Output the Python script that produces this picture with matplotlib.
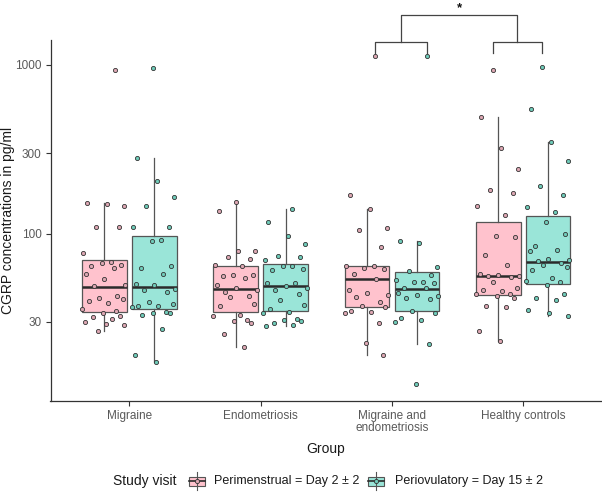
import matplotlib
matplotlib.use('Agg')
import matplotlib.pyplot as plt
from matplotlib.patches import Rectangle
from matplotlib.lines import Line2D
from matplotlib.ticker import NullLocator

plt.rcParams['font.family'] = ['Liberation Sans', 'DejaVu Sans']

groups = ["Migraine", "Endometriosis", "Migraine and\nendometriosis", "Healthy controls"]
visits = ["Perimenstrual = Day 2 \u00b1 2", "Periovulatory = Day 15 \u00b1 2"]

# box statistics (pg/ml), one value per group
peri_lo = [26.5, 21.3, 19.0, 23.1]
peri_q1 = [34.4, 34.4, 36.6, 43.2]
peri_med = [48.4, 47.2, 53.9, 55.9]
peri_q3 = [69.8, 64.0, 64.0, 117.8]
peri_hi = [152, 154, 140, 495]

ovu_lo = [17.3, 28.5, 22.3, 32.4]
ovu_q1 = [35.8, 35.0, 35.0, 50.6]
ovu_med = [48.4, 49.3, 47.2, 68.3]
ovu_q3 = [96.4, 65.8, 59.0, 127.8]
ovu_hi = [281, 140, 90.9, 349]

# individual measurements
mig_peri = [931, 152, 151, 146, 110, 109, 77, 68, 67, 65.5, 64, 63, 57.5, 54, 49.7, 48.7,
            43, 41.4, 41.1, 39.8, 38.9, 35.8, 34.7, 33.9, 32.6, 32, 31.2, 29.9, 29.3, 28.9, 26.5]
mig_ovu = [960, 281, 204, 165, 145, 110, 109, 92, 91, 64.7, 62.3, 58, 50.6, 50, 47, 46.2,
           45.4, 39.3, 38.5, 37.5, 37.2, 36.8, 34.5, 34, 33.9, 33.2, 27.3, 19, 17.3]
endo_peri = [154, 137, 79.3, 79, 72.8, 71.1, 65.5, 64, 57.2, 57, 55.9, 55, 50, 47.7, 46.6,
             45, 42.6, 42, 38.5, 37.2, 33.2, 32.6, 31, 30.5, 29.6, 25.3, 21.3]
endo_ovu = [140, 116.6, 96.4, 86.9, 73.4, 73, 69.5, 64.7, 64, 61.9, 60.6, 51.1, 51, 48.7,
            47.7, 46.6, 44.2, 40.5, 38, 35.8, 34.3, 34, 31.4, 31, 30.2, 29.6, 28.9, 28.5]
me_peri = [1130, 170.5, 140, 108, 105.6, 83.4, 64.7, 64, 62.5, 62, 58, 54, 46.2, 44.5, 43.4,
           42.2, 39.3, 37.2, 36.6, 34.7, 34.3, 33.7, 29.6, 22.5, 19]
me_ovu = [1130, 90.9, 88.1, 63.5, 59.9, 56.6, 53.4, 51.6, 51.4, 51, 47.7, 47.5, 44.5, 43.5,
          42.6, 41.4, 41, 34.7, 33.7, 31.5, 30.7, 29.9, 22.3, 12.9]
hc_peri = [935, 495, 322, 242, 181, 174, 145, 129, 96.4, 95.1, 75, 65.5, 57.7, 57, 56.5, 56,
           55.5, 51.6, 47.7, 46.6, 45.6, 44.2, 44, 42.6, 41.6, 37.5, 36.7, 26.5, 23.1]
hc_ovu = [978, 549, 349, 270, 192, 170.5, 143, 134, 116.6, 100, 84.1, 80.4, 78.6, 70.8, 69.5,
          69, 66.8, 65.5, 63.5, 61.2, 54.7, 52.2, 52, 50, 44.2, 41.6, 40.7, 35.2, 33.7, 32.4]

peri_pts = [mig_peri, endo_peri, me_peri, hc_peri]
ovu_pts = [mig_ovu, endo_ovu, me_ovu, hc_ovu]

# horizontal jitter of the points (fixed pattern), first point of each box set by hand
JIT = [0.08, -0.13, 0.02, 0.15, -0.06, 0.11, -0.16, 0.05, -0.02, 0.13, -0.10, 0.07, -0.14,
       0.00, 0.16, -0.08, 0.10, -0.04, 0.14, -0.12, 0.03, -0.17, 0.09, -0.01, 0.12, -0.09,
       0.06, -0.15, 0.01, 0.15, -0.05]
peri_first_jit = [0.085, 0.0, 0.062, -0.043]
ovu_first_jit = [-0.01, 0.05, 0.078, -0.048]

PINK = '#FFC2CD'
TEAL = '#9AE5D8'
PINK_PT = '#DDA7B3'
TEAL_PT = '#6FCBB9'
EDGE = '#555555'
MED = '#2b2b2b'
GREY_TXT = '#595959'

W, H = 602, 493
fig = plt.figure(figsize=(W / 100, H / 100), dpi=100)
ax = fig.add_axes([50.5 / W, 1 - 401 / H, (W - 50.5) / W, 361 / H])


def fx(px):
    return px / W


def fy(py):
    return 1 - py / H


boxes = [
    (-0.19, PINK, PINK_PT, peri_lo, peri_q1, peri_med, peri_q3, peri_hi, peri_pts, peri_first_jit),
    (0.19, TEAL, TEAL_PT, ovu_lo, ovu_q1, ovu_med, ovu_q3, ovu_hi, ovu_pts, ovu_first_jit),
]
out_x = {}
for off, fill, ptc, lo, q1, med, q3, hi, pts, fj in boxes:
    stats = [dict(whislo=lo[i], q1=q1[i], med=med[i], q3=q3[i], whishi=hi[i]) for i in range(4)]
    pos = [i + 1 + off for i in range(4)]
    ax.bxp(stats, positions=pos, widths=0.34, patch_artist=True, showfliers=False,
           showcaps=False, manage_ticks=False,
           boxprops=dict(facecolor=fill, edgecolor=EDGE, linewidth=0.9),
           whiskerprops=dict(color=EDGE, linewidth=0.9),
           medianprops=dict(color=MED, linewidth=1.8, solid_capstyle='butt'))
    for i in range(4):
        vals = pts[i]
        xs = [pos[i] + (fj[i] if k == 0 else JIT[k % len(JIT)]) for k in range(len(vals))]
        out_x[(i, off)] = xs[0]
        ax.scatter(xs, vals, s=9, facecolor=ptc, edgecolor='#333333', linewidths=0.6, zorder=3)

ax.set_yscale('log')
ax.set_ylim(10.2, 1406)
ax.set_xlim(0.4, 4.6)
ax.set_yticks([30, 100, 300, 1000])
ax.set_yticklabels(['30', '100', '300', '1000'])
ax.yaxis.set_minor_locator(NullLocator())
ax.set_xticks([1, 2, 3, 4])
ax.set_xticklabels(groups)
for lab in ax.get_xticklabels():
    lab.set_linespacing(0.95)
for s in ['top', 'right']:
    ax.spines[s].set_visible(False)
for s in ['left', 'bottom']:
    ax.spines[s].set_color('#333333')
    ax.spines[s].set_linewidth(0.9)
ax.tick_params(length=3.5, width=0.8, color='#333333', labelsize=8.5,
               labelcolor=GREY_TXT, pad=3)

# significance brackets above the outliers
y_low, y_mid, y_top, y_star = 1173, 1362, 1976, 2090
la, lb = out_x[(2, -0.19)], out_x[(2, 0.19)]
ra, rb = out_x[(3, -0.19)], out_x[(3, 0.19)]
bk = dict(color='#444444', lw=0.9, clip_on=False)
ax.plot([la, la, lb, lb], [y_low, y_mid, y_mid, y_low], **bk)
ax.plot([ra, ra, rb, rb], [y_low, y_mid, y_mid, y_low], **bk)
lm, rm = (la + lb) / 2, (ra + rb) / 2
ax.plot([lm, lm, rm, rm], [y_mid, y_top, y_top, y_mid], **bk)
ax.text((lm + rm) / 2, y_star, '*', ha='center', va='baseline', fontsize=9.5,
        fontweight='bold', color='#111111', clip_on=False)

fig.text(fx(8), fy(220.5), 'CGRP concentrations in pg/ml', rotation=90, ha='center',
         va='center', fontsize=10, color='#1a1a1a')
fig.text(fx(326), fy(449), 'Group', ha='center', va='center', fontsize=10, color='#1a1a1a')

# legend
fig.text(fx(113), fy(481), 'Study visit', ha='left', va='center', fontsize=10, color='#1a1a1a')
for cx, fill, ptc, label, lx in [(197, PINK, PINK_PT, visits[0], 214),
                                 (376, TEAL, TEAL_PT, visits[1], 395)]:
    fig.add_artist(Line2D([fx(cx), fx(cx)], [fy(472), fy(490)], color=EDGE, lw=0.8))
    fig.add_artist(Rectangle((fx(cx - 8), fy(485.5)), 16 / W, 9 / H, transform=fig.transFigure,
                             facecolor=fill, edgecolor=EDGE, lw=0.8))
    fig.add_artist(Line2D([fx(cx - 8), fx(cx + 8)], [fy(481), fy(481)], color=MED, lw=1.2))
    fig.add_artist(Line2D([fx(cx)], [fy(481)], marker='o', markersize=3, markerfacecolor=ptc,
                          markeredgecolor='#333333', markeredgewidth=0.6))
    fig.text(fx(lx), fy(481), label, ha='left', va='center', fontsize=9, color='#1a1a1a')

fig.savefig('out.png', dpi=100)
